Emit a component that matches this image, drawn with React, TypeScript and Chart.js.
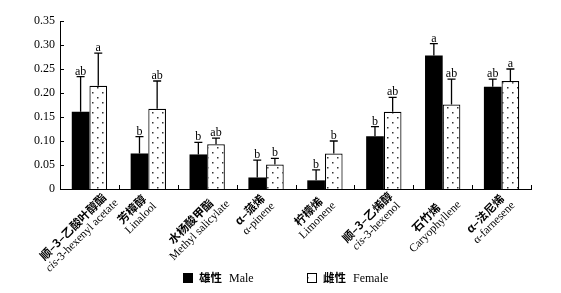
import { useEffect, useRef } from 'react';
import { Chart, registerables } from 'chart.js';

Chart.register(...registerables);

const categoriesZh = ['顺–3–乙酸叶醇酯', '芳樟醇', '水杨酸甲酯', 'α–蒎烯', '柠檬烯', '顺–3–乙烯醇', '石竹烯', 'α–法尼烯'];
const categoriesEn = ['cis-3-hexenyl acetate', 'Linalool', 'Methyl salicylate', 'α-pinene', 'Limonene', 'cis-3-hexenol', 'Caryophyllene', 'α-farnesene'];

const maleValues = [0.161, 0.074, 0.072, 0.024, 0.018, 0.110, 0.278, 0.213];
const maleErrors = [0.073, 0.035, 0.025, 0.036, 0.022, 0.020, 0.025, 0.016];
const femaleValues = [0.215, 0.167, 0.093, 0.051, 0.074, 0.161, 0.176, 0.225];
const femaleErrors = [0.068, 0.058, 0.013, 0.013, 0.026, 0.030, 0.053, 0.025];

const maleLetters = ['ab', 'b', 'b', 'b', 'b', 'b', 'a', 'ab'];
const femaleLetters = ['a', 'ab', 'ab', 'b', 'b', 'ab', 'ab', 'a'];

const yTickValues = [0, 0.05, 0.1, 0.15, 0.2, 0.25, 0.3, 0.35];
const legendZh = ['雄性', '雌性'];
const legendEn = ['Male', 'Female'];

const SERIF = "'Liberation Serif', 'Times New Roman', serif";
const CJK = "'Noto Sans CJK SC', sans-serif";

function makeDotPattern(ctx: CanvasRenderingContext2D): CanvasPattern | string {
  const c = document.createElement('canvas');
  c.width = 10;
  c.height = 10;
  const g = c.getContext('2d');
  if (!g) return '#fff';
  g.fillStyle = '#fff';
  g.fillRect(0, 0, 10, 10);
  g.fillStyle = '#333';
  g.fillRect(2, 2, 1.5, 1.5);
  g.fillRect(7, 7, 1.5, 1.5);
  return ctx.createPattern(c, 'repeat') || '#fff';
}

function enSegments(text: string) {
  if (text.startsWith('cis-')) {
    return [
      { t: 'cis', italic: true },
      { t: text.slice(3), italic: false },
    ];
  }
  return [{ t: text, italic: false }];
}

const EN_SIZE = 11.5;
const ZH_FONT = `bold 11.5px ${CJK}`;

function enFont(italic: boolean) {
  return `${italic ? 'italic ' : ''}${EN_SIZE}px ${SERIF}`;
}

function measureEn(ctx: CanvasRenderingContext2D, text: string) {
  let w = 0;
  for (const s of enSegments(text)) {
    ctx.font = enFont(s.italic);
    w += ctx.measureText(s.t).width;
  }
  return w;
}

function drawEn(ctx: CanvasRenderingContext2D, text: string, cx: number, cy: number) {
  const w = measureEn(ctx, text);
  let x = cx - w / 2;
  ctx.textAlign = 'left';
  for (const s of enSegments(text)) {
    ctx.font = enFont(s.italic);
    ctx.fillText(s.t, x, cy);
    x += ctx.measureText(s.t).width;
  }
}

const decorPlugin = {
  id: 'decor',
  afterDatasetsDraw(chart: any) {
    const ctx: CanvasRenderingContext2D = chart.ctx;
    const yScale = chart.scales.y;
    chart.data.datasets.forEach((ds: any, di: number) => {
      const meta = chart.getDatasetMeta(di);
      const errs = di === 0 ? maleErrors : femaleErrors;
      const letters = di === 0 ? maleLetters : femaleLetters;
      meta.data.forEach((bar: any, i: number) => {
        const v = ds.data[i] as number;
        const top = yScale.getPixelForValue(v + errs[i]);
        const x = bar.x;
        ctx.save();
        ctx.strokeStyle = '#000';
        ctx.lineWidth = 1.3;
        ctx.beginPath();
        ctx.moveTo(x, bar.y);
        ctx.lineTo(x, top);
        ctx.moveTo(x - 4, top);
        ctx.lineTo(x + 4, top);
        ctx.stroke();
        ctx.fillStyle = '#000';
        ctx.font = `12px ${SERIF}`;
        ctx.textAlign = 'center';
        ctx.textBaseline = 'alphabetic';
        ctx.fillText(letters[i], x, top - 2);
        ctx.restore();
      });
    });
  },
  afterDraw(chart: any) {
    const ctx: CanvasRenderingContext2D = chart.ctx;
    const xs = chart.scales.x;
    const ys = chart.scales.y;
    const area = chart.chartArea;
    ctx.save();
    ctx.strokeStyle = '#000';
    ctx.lineWidth = 1;
    ctx.beginPath();
    for (const v of yTickValues) {
      const py = Math.round(ys.getPixelForValue(v)) + 0.5;
      ctx.moveTo(area.left, py);
      ctx.lineTo(area.left + 4, py);
    }
    for (let i = 0; i < categoriesEn.length; i++) {
      const bx =
        i < categoriesEn.length - 1
          ? (xs.getPixelForValue(i) + xs.getPixelForValue(i + 1)) / 2
          : area.right;
      const px = Math.round(bx) + 0.5;
      ctx.moveTo(px, area.bottom);
      ctx.lineTo(px, area.bottom - 4);
    }
    ctx.stroke();

    ctx.fillStyle = '#000';
    ctx.textBaseline = 'middle';
    for (let i = 0; i < categoriesEn.length; i++) {
      const cx = xs.getPixelForValue(i);
      ctx.font = ZH_FONT;
      const wZh = ctx.measureText(categoriesZh[i]).width;
      const wEn = measureEn(ctx, categoriesEn[i]);
      const W = Math.max(wZh, wEn);
      const px = cx - 12;
      const py = area.bottom + 13 + 0.3 * W;
      ctx.save();
      ctx.translate(px, py);
      ctx.rotate(-Math.PI / 4);
      ctx.font = ZH_FONT;
      ctx.textAlign = 'center';
      ctx.fillText(categoriesZh[i], 0, -6.5);
      drawEn(ctx, categoriesEn[i], 0, 6.5);
      ctx.restore();
    }

    const ly = 278;
    const starts = [183, 307];
    ctx.textBaseline = 'middle';
    ctx.textAlign = 'left';
    for (let k = 0; k < 2; k++) {
      const bx = starts[k];
      if (k === 0) {
        ctx.fillStyle = '#000';
        ctx.fillRect(bx, ly - 5, 10, 10);
      } else {
        ctx.fillStyle = chart.data.datasets[1].backgroundColor;
        ctx.fillRect(bx, ly - 5, 10, 10);
        ctx.strokeStyle = '#000';
        ctx.lineWidth = 1;
        ctx.strokeRect(bx + 0.5, ly - 4.5, 9, 9);
      }
      ctx.fillStyle = '#000';
      ctx.font = ZH_FONT;
      const zx = bx + 16;
      ctx.fillText(legendZh[k], zx, ly);
      const zw = ctx.measureText(legendZh[k]).width;
      ctx.font = `12px ${SERIF}`;
      ctx.fillText(legendEn[k], zx + zw + 7, ly + 1);
    }
    ctx.restore();
  },
};

export default function App() {
  const ref = useRef<HTMLCanvasElement | null>(null);
  useEffect(() => {
    const canvas = ref.current;
    if (!canvas) return;
    const ctx = canvas.getContext('2d');
    if (!ctx) return;
    const pattern = makeDotPattern(ctx);
    const chart = new Chart(canvas, {
      type: 'bar',
      data: {
        labels: categoriesEn,
        datasets: [
          {
            label: 'Male',
            data: maleValues,
            backgroundColor: '#000',
            borderWidth: 0,
          },
          {
            label: 'Female',
            data: femaleValues,
            backgroundColor: pattern as any,
            borderColor: '#000',
            borderWidth: 1.2,
          },
        ],
      },
      options: {
        animation: false,
        responsive: false,
        devicePixelRatio: 1,
        layout: { padding: { top: 21, right: 30, left: 0, bottom: 0 } },
        datasets: { bar: { barPercentage: 1, categoryPercentage: 0.6 } },
        plugins: {
          legend: { display: false },
          tooltip: { enabled: false },
        },
        scales: {
          x: {
            offset: true,
            ticks: { display: false },
            grid: { display: false, drawTicks: false },
            border: { display: true, color: '#000', width: 1 },
            afterFit: (s: any) => {
              s.height = 104;
            },
          },
          y: {
            min: 0,
            max: 0.35,
            afterBuildTicks: (s: any) => {
              s.ticks = yTickValues.map((v) => ({ value: v }));
            },
            ticks: {
              padding: 5,
              color: '#000',
              font: { family: SERIF, size: 12 },
              callback: (v: any) => (Number(v) === 0 ? '0' : Number(v).toFixed(2)),
            },
            grid: { display: false, drawTicks: false },
            border: { display: true, color: '#000', width: 1 },
            afterFit: (s: any) => {
              s.width = 60;
            },
          },
        },
      },
      plugins: [decorPlugin],
    });
    return () => chart.destroy();
  }, []);
  return (
    <div style={{ position: 'fixed', left: 0, top: 0, width: 561, height: 293, background: '#fff' }}>
      <canvas ref={ref} width={561} height={293} style={{ display: 'block' }} />
    </div>
  );
}
